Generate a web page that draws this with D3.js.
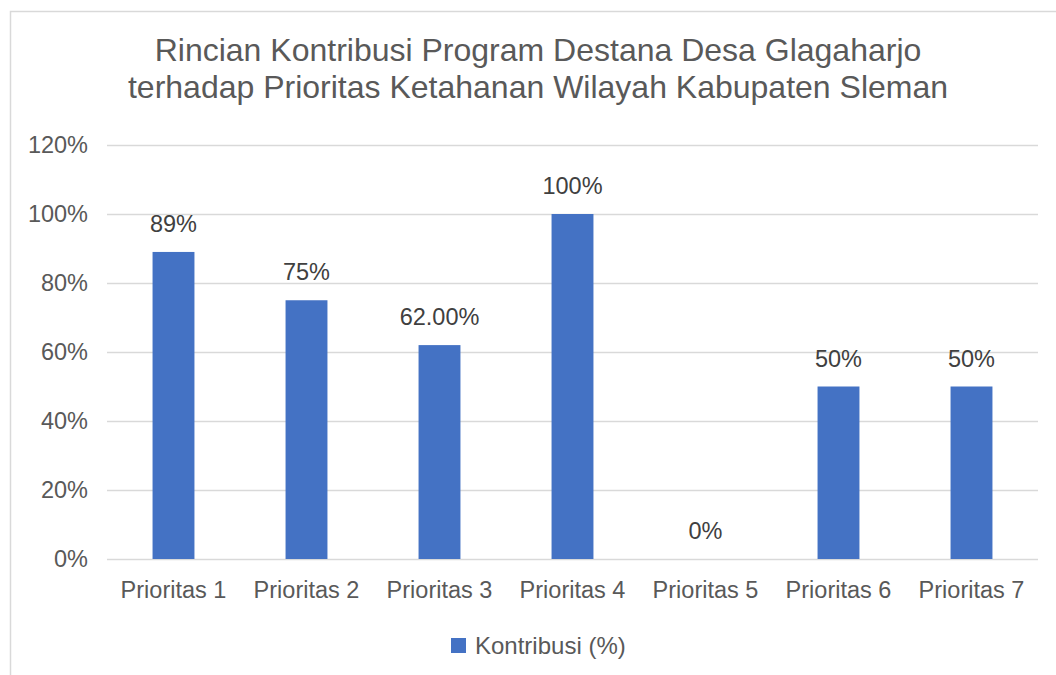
<!DOCTYPE html>
<html>
<head>
<meta charset="utf-8">
<script src="https://cdn.jsdelivr.net/npm/d3@7"></script>
<style>
  body { margin: 0; background: #fff; }
  svg { display: block; font-family: "Liberation Sans", Arial, sans-serif; }
</style>
</head>
<body>
<svg id="chart"></svg>
<script>
// chart data
var categories = ["Prioritas 1", "Prioritas 2", "Prioritas 3", "Prioritas 4", "Prioritas 5", "Prioritas 6", "Prioritas 7"];
var values = [89, 75, 62, 100, 0, 50, 50];
var valueLabels = ["89%", "75%", "62.00%", "100%", "0%", "50%", "50%"];
var yTicks = [0, 20, 40, 60, 80, 100, 120];
var titleLines = ["Rincian Kontribusi Program Destana Desa Glagaharjo",
                  "terhadap Prioritas Ketahanan Wilayah Kabupaten Sleman"];
var seriesName = "Kontribusi (%)";

var width = 1056, height = 675;
var plot = { left: 107, right: 1038, top: 145, bottom: 559 };
var barColor = "#4472c4";
var gridColor = "#d9d9d9";
var fontSize = 23.5;

var svg = d3.select("#chart").attr("width", width).attr("height", height);

// outer frame (runs past the right and bottom edges)
svg.append("rect")
    .attr("x", 10.5).attr("y", 11.5)
    .attr("width", width).attr("height", height)
    .attr("fill", "none").attr("stroke", gridColor).attr("stroke-width", 1.5);

// title
svg.append("g").selectAll("text")
    .data(titleLines)
    .enter()
    .append("text")
    .attr("x", 538)
    .attr("y", function(d, i) { return 61 + i * 37; })
    .attr("text-anchor", "middle")
    .attr("font-size", 32)
    .attr("fill", "#595959")
    .text(function(d) { return d; });

var x = d3.scaleBand().domain(categories).range([plot.left, plot.right]);
var y = d3.scaleLinear().domain([0, 120]).range([plot.bottom, plot.top]);

// gridlines + y labels
var yAxis = d3.axisLeft(y)
    .tickValues(yTicks)
    .tickSize(-(plot.right - plot.left))
    .tickPadding(19)
    .tickFormat(function(d) { return d + "%"; });

var gy = svg.append("g")
    .attr("transform", "translate(" + plot.left + ",0)")
    .call(yAxis);
gy.select(".domain").remove();
gy.selectAll(".tick line").attr("stroke", gridColor).attr("stroke-width", 1.5);
gy.selectAll(".tick text")
    .attr("font-size", fontSize)
    .attr("fill", "#595959")
    .attr("font-family", "Liberation Sans, Arial, sans-serif");

// x labels
var xAxis = d3.axisBottom(x).tickSize(0).tickPadding(22);
var gx = svg.append("g")
    .attr("transform", "translate(0," + plot.bottom + ")")
    .call(xAxis);
gx.select(".domain").remove();
gx.selectAll(".tick text")
    .attr("font-size", fontSize)
    .attr("fill", "#595959")
    .attr("font-family", "Liberation Sans, Arial, sans-serif");

// bars
var barW = x.bandwidth() * 0.315;
svg.append("g").selectAll("rect")
    .data(values)
    .enter()
    .append("rect")
    .attr("x", function(d, i) { return x(categories[i]) + x.bandwidth() / 2 - barW / 2; })
    .attr("y", function(d) { return y(d); })
    .attr("width", barW)
    .attr("height", function(d) { return y(0) - y(d); })
    .attr("fill", barColor);

// value labels
svg.append("g").selectAll("text")
    .data(values)
    .enter()
    .append("text")
    .attr("x", function(d, i) { return x(categories[i]) + x.bandwidth() / 2; })
    .attr("y", function(d) { return y(d) - 20; })
    .attr("text-anchor", "middle")
    .attr("font-size", fontSize)
    .attr("fill", "#404040")
    .text(function(d, i) { return valueLabels[i]; });

// legend
var legend = svg.append("g").attr("transform", "translate(451,638)");
legend.append("rect")
    .attr("width", 15).attr("height", 15)
    .attr("fill", barColor);
legend.append("text")
    .attr("x", 24).attr("y", 15.5)
    .attr("font-size", 24)
    .attr("fill", "#595959")
    .text(seriesName);
</script>
</body>
</html>
